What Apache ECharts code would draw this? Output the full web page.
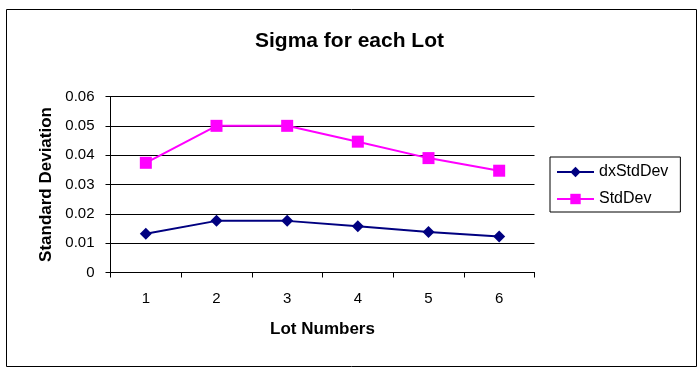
<!DOCTYPE html>
<html><head><meta charset="utf-8">
<script src="https://cdn.jsdelivr.net/npm/echarts@6/dist/echarts.min.js"></script>
<style>html,body{margin:0;padding:0;background:#fff}#c{width:699px;height:369px}</style>
</head><body><div id="c"></div>
<script>
var categories = ['1','2','3','4','5','6'];
var dxStdDev = [0.0132, 0.0176, 0.0176, 0.0158, 0.0138, 0.0123];
var stdDev = [0.0374, 0.0500, 0.0500, 0.0446, 0.0390, 0.0347];
var yTicks = [0, 0.01, 0.02, 0.03, 0.04, 0.05, 0.06];

var chart = echarts.init(document.getElementById('c'));
var font = 'Liberation Sans, Arial, sans-serif';
chart.setOption({
  animation: false,
  graphic: [{type:'rect', shape:{x:6.5,y:9.5,width:690,height:357}, style:{fill:'none', stroke:'#000', lineWidth:1}, z:-1}],
  title: {text:'Sigma for each Lot', left:'center', top:26, textStyle:{fontFamily:font, fontSize:21, fontWeight:'bold', color:'#000'}},
  grid: {left:110.5, right:164.5, top:96.5, bottom:96.5},
  legend: {
    orient:'vertical', left:550, top:157,
    borderColor:'#000', borderWidth:1, padding:[7,12,5,6], itemGap:11,
    itemWidth:37, itemHeight:13,
    textStyle:{fontFamily:font, fontSize:16, color:'#000'},
    data:['dxStdDev','StdDev']
  },
  xAxis: {
    type:'category', data:categories, boundaryGap:true,
    name:'Lot Numbers', nameLocation:'middle', nameGap:48,
    nameTextStyle:{fontFamily:font, fontSize:17, fontWeight:'bold', color:'#000'},
    axisLine:{lineStyle:{color:'#000'}},
    axisTick:{show:true, alignWithLabel:false, length:5, lineStyle:{color:'#000'}},
    axisLabel:{fontFamily:font, fontSize:15, color:'#000', margin:19}
  },
  yAxis: {
    type:'value', min:0, max:0.06, interval:0.01,
    name:'Standard Deviation', nameLocation:'middle', nameGap:53,
    nameTextStyle:{fontFamily:font, fontSize:17, fontWeight:'bold', color:'#000'},
    axisLine:{show:true, lineStyle:{color:'#000'}},
    axisTick:{show:true, length:5, lineStyle:{color:'#000'}},
    splitLine:{show:true, lineStyle:{color:'#000'}},
    axisLabel:{fontFamily:font, fontSize:15, color:'#000', margin:16,
      formatter:function(v){ return yTicks.indexOf(v)>=0 ? String(+v.toFixed(2)) : ''; }}
  },
  series: [
    {name:'dxStdDev', type:'line', data:dxStdDev, symbol:'diamond', symbolSize:12,
     itemStyle:{color:'#000080'}, lineStyle:{color:'#000080', width:2}},
    {name:'StdDev', type:'line', data:stdDev, symbol:'rect', symbolSize:12,
     itemStyle:{color:'#FF00FF'}, lineStyle:{color:'#FF00FF', width:2}}
  ]
});
</script></body></html>
